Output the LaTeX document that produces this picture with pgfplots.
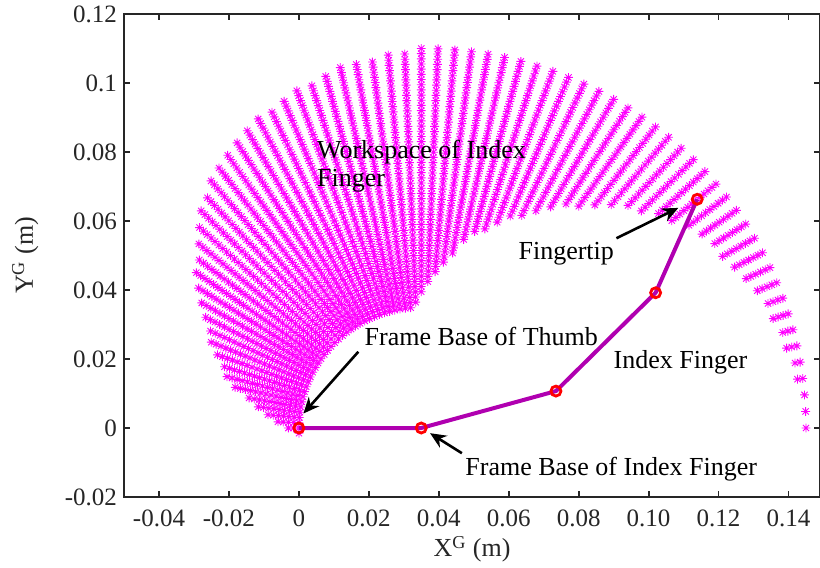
\documentclass[border=0pt]{standalone}
\usepackage{fontspec}
\setmainfont{Liberation Serif}
\usepackage{pgfplots}
\pgfplotsset{compat=1.18}
\usetikzlibrary{arrows.meta}
\definecolor{fingerpurple}{RGB}{176,0,176}
\definecolor{axgray}{RGB}{38,38,38}
\definecolor{cloudmag}{RGB}{255,0,255}
\pgfdeclareplotmark{mstar}{%
  \pgfpathmoveto{\pgfqpoint{-\pgfplotmarksize}{0pt}}%
  \pgfpathlineto{\pgfqpoint{\pgfplotmarksize}{0pt}}%
  \pgfpathmoveto{\pgfqpoint{0pt}{-\pgfplotmarksize}}%
  \pgfpathlineto{\pgfqpoint{0pt}{\pgfplotmarksize}}%
  \pgfpathmoveto{\pgfqpoint{-.7071\pgfplotmarksize}{-.7071\pgfplotmarksize}}%
  \pgfpathlineto{\pgfqpoint{.7071\pgfplotmarksize}{.7071\pgfplotmarksize}}%
  \pgfpathmoveto{\pgfqpoint{-.7071\pgfplotmarksize}{.7071\pgfplotmarksize}}%
  \pgfpathlineto{\pgfqpoint{.7071\pgfplotmarksize}{-.7071\pgfplotmarksize}}%
  \pgfusepathqstroke}
\begin{document}
\begin{tikzpicture}
% workspace cloud: polar data (angle in degrees, radius in mm) about the index finger base
\begin{axis}[at={(0,0)}, anchor=south west, width=348pt, height=241.5pt, scale only axis,
  xmin=-85, xmax=114, ymin=-20, ymax=120, hide axis]
\addplot[only marks, mark=mstar, mark size=2.2pt, color=cloudmag, mark options={line width=0.45pt}, data cs=polar] coordinates {
(0,110)(2.5,110)(5,110)(7.5,110)(10,110)(12.5,110)(15,110)(17.5,110)(20,110)(22.5,110)(25,110)(27.5,110)(30,110)(32.5,110)(35,110)(37.5,110)(40,110)(42.5,110)(45,110)(47.5,110)(50,110)(52.5,110)(55,110)(57.5,110)(60,110)(62.5,110)(65,110)(67.5,110)(70,110)(72.5,110)(75,110)(77.5,110)(80,110)(82.5,110)(85,110)(87.5,110)(90,110)
(12.5,107)(15,107)(17.5,107)(20,107)(22.5,107)(25,107)(27.5,107)(30,107)(32.5,107)(35,107)(37.5,107)(40,107)(42.5,107)(45,107)(47.5,107)(50,107)(52.5,107)(55,107)(57.5,107)(60,107)(62.5,107)(65,107)(67.5,107)(70,107)(72.5,107)(75,107)(77.5,107)(80,107)(82.5,107)(85,107)(87.5,107)(90,107)(92.5,107)(95,107)(97.5,107)(100,107)(102.5,107)
(22.5,104)(25,104)(27.5,104)(30,104)(32.5,104)(35,104)(37.5,104)(40,104)(42.5,104)(45,104)(47.5,104)(50,104)(52.5,104)(55,104)(57.5,104)(60,104)(62.5,104)(65,104)(67.5,104)(70,104)(72.5,104)(75,104)(77.5,104)(80,104)(82.5,104)(85,104)(87.5,104)(90,104)(92.5,104)(95,104)(97.5,104)(100,104)(102.5,104)(105,104)(107.5,104)(110,104)
(27.5,101)(30,101)(32.5,101)(35,101)(37.5,101)(40,101)(42.5,101)(45,101)(47.5,101)(50,101)(52.5,101)(55,101)(57.5,101)(60,101)(62.5,101)(65,101)(67.5,101)(70,101)(72.5,101)(75,101)(77.5,101)(80,101)(82.5,101)(85,101)(87.5,101)(90,101)(92.5,101)(95,101)(97.5,101)(100,101)(102.5,101)(105,101)(107.5,101)(110,101)(112.5,101)(115,101)(117.5,101)
(35,98)(37.5,98)(40,98)(42.5,98)(45,98)(47.5,98)(50,98)(52.5,98)(55,98)(57.5,98)(60,98)(62.5,98)(65,98)(67.5,98)(70,98)(72.5,98)(75,98)(77.5,98)(80,98)(82.5,98)(85,98)(87.5,98)(90,98)(92.5,98)(95,98)(97.5,98)(100,98)(102.5,98)(105,98)(107.5,98)(110,98)(112.5,98)(115,98)(117.5,98)(120,98)(122.5,98)
(40,95)(42.5,95)(45,95)(47.5,95)(50,95)(52.5,95)(55,95)(57.5,95)(60,95)(62.5,95)(65,95)(67.5,95)(70,95)(72.5,95)(75,95)(77.5,95)(80,95)(82.5,95)(85,95)(87.5,95)(90,95)(92.5,95)(95,95)(97.5,95)(100,95)(102.5,95)(105,95)(107.5,95)(110,95)(112.5,95)(115,95)(117.5,95)(120,95)(122.5,95)(125,95)(127.5,95)
(42.5,92)(45,92)(47.5,92)(50,92)(52.5,92)(55,92)(57.5,92)(60,92)(62.5,92)(65,92)(67.5,92)(70,92)(72.5,92)(75,92)(77.5,92)(80,92)(82.5,92)(85,92)(87.5,92)(90,92)(92.5,92)(95,92)(97.5,92)(100,92)(102.5,92)(105,92)(107.5,92)(110,92)(112.5,92)(115,92)(117.5,92)(120,92)(122.5,92)(125,92)(127.5,92)(130,92)
(45,89)(47.5,89)(50,89)(52.5,89)(55,89)(57.5,89)(60,89)(62.5,89)(65,89)(67.5,89)(70,89)(72.5,89)(75,89)(77.5,89)(80,89)(82.5,89)(85,89)(87.5,89)(90,89)(92.5,89)(95,89)(97.5,89)(100,89)(102.5,89)(105,89)(107.5,89)(110,89)(112.5,89)(115,89)(117.5,89)(120,89)(122.5,89)(125,89)(127.5,89)(130,89)(132.5,89)(135,89)
(50,86)(52.5,86)(55,86)(57.5,86)(60,86)(62.5,86)(65,86)(67.5,86)(70,86)(72.5,86)(75,86)(77.5,86)(80,86)(82.5,86)(85,86)(87.5,86)(90,86)(92.5,86)(95,86)(97.5,86)(100,86)(102.5,86)(105,86)(107.5,86)(110,86)(112.5,86)(115,86)(117.5,86)(120,86)(122.5,86)(125,86)(127.5,86)(130,86)(132.5,86)(135,86)(137.5,86)
(52.5,83)(55,83)(57.5,83)(60,83)(62.5,83)(65,83)(67.5,83)(70,83)(72.5,83)(75,83)(77.5,83)(80,83)(82.5,83)(85,83)(87.5,83)(90,83)(92.5,83)(95,83)(97.5,83)(100,83)(102.5,83)(105,83)(107.5,83)(110,83)(112.5,83)(115,83)(117.5,83)(120,83)(122.5,83)(125,83)(127.5,83)(130,83)(132.5,83)(135,83)(137.5,83)(140,83)
(55,80)(57.5,80)(60,80)(62.5,80)(65,80)(67.5,80)(70,80)(72.5,80)(75,80)(77.5,80)(80,80)(82.5,80)(85,80)(87.5,80)(90,80)(92.5,80)(95,80)(97.5,80)(100,80)(102.5,80)(105,80)(107.5,80)(110,80)(112.5,80)(115,80)(117.5,80)(120,80)(122.5,80)(125,80)(127.5,80)(130,80)(132.5,80)(135,80)(137.5,80)(140,80)(142.5,80)
(57.5,77)(60,77)(62.5,77)(65,77)(67.5,77)(70,77)(72.5,77)(75,77)(77.5,77)(80,77)(82.5,77)(85,77)(87.5,77)(90,77)(92.5,77)(95,77)(97.5,77)(100,77)(102.5,77)(105,77)(107.5,77)(110,77)(112.5,77)(115,77)(117.5,77)(120,77)(122.5,77)(125,77)(127.5,77)(130,77)(132.5,77)(135,77)(137.5,77)(140,77)(142.5,77)(145,77)
(60,74)(62.5,74)(65,74)(67.5,74)(70,74)(72.5,74)(75,74)(77.5,74)(80,74)(82.5,74)(85,74)(87.5,74)(90,74)(92.5,74)(95,74)(97.5,74)(100,74)(102.5,74)(105,74)(107.5,74)(110,74)(112.5,74)(115,74)(117.5,74)(120,74)(122.5,74)(125,74)(127.5,74)(130,74)(132.5,74)(135,74)(137.5,74)(140,74)(142.5,74)(145,74)(147.5,74)
(62.5,71)(65,71)(67.5,71)(70,71)(72.5,71)(75,71)(77.5,71)(80,71)(82.5,71)(85,71)(87.5,71)(90,71)(92.5,71)(95,71)(97.5,71)(100,71)(102.5,71)(105,71)(107.5,71)(110,71)(112.5,71)(115,71)(117.5,71)(120,71)(122.5,71)(125,71)(127.5,71)(130,71)(132.5,71)(135,71)(137.5,71)(140,71)(142.5,71)(145,71)(147.5,71)(150,71)
(65,68)(67.5,68)(70,68)(72.5,68)(75,68)(77.5,68)(80,68)(82.5,68)(85,68)(87.5,68)(90,68)(92.5,68)(95,68)(97.5,68)(100,68)(102.5,68)(105,68)(107.5,68)(110,68)(112.5,68)(115,68)(117.5,68)(120,68)(122.5,68)(125,68)(127.5,68)(130,68)(132.5,68)(135,68)(137.5,68)(140,68)(142.5,68)(145,68)(147.5,68)(150,68)(152.5,68)
(70,65)(72.5,65)(75,65)(77.5,65)(80,65)(82.5,65)(85,65)(87.5,65)(90,65)(92.5,65)(95,65)(97.5,65)(100,65)(102.5,65)(105,65)(107.5,65)(110,65)(112.5,65)(115,65)(117.5,65)(120,65)(122.5,65)(125,65)(127.5,65)(130,65)(132.5,65)(135,65)(137.5,65)(140,65)(142.5,65)(145,65)(147.5,65)(150,65)(152.5,65)(155,65)(157.5,65)
(72.5,62)(75,62)(77.5,62)(80,62)(82.5,62)(85,62)(87.5,62)(90,62)(92.5,62)(95,62)(97.5,62)(100,62)(102.5,62)(105,62)(107.5,62)(110,62)(112.5,62)(115,62)(117.5,62)(120,62)(122.5,62)(125,62)(127.5,62)(130,62)(132.5,62)(135,62)(137.5,62)(140,62)(142.5,62)(145,62)(147.5,62)(150,62)(152.5,62)(155,62)(157.5,62)(160,62)
(75,59)(77.5,59)(80,59)(82.5,59)(85,59)(87.5,59)(90,59)(92.5,59)(95,59)(97.5,59)(100,59)(102.5,59)(105,59)(107.5,59)(110,59)(112.5,59)(115,59)(117.5,59)(120,59)(122.5,59)(125,59)(127.5,59)(130,59)(132.5,59)(135,59)(137.5,59)(140,59)(142.5,59)(145,59)(147.5,59)(150,59)(152.5,59)(155,59)(157.5,59)(160,59)(162.5,59)
(77.5,56)(80,56)(82.5,56)(85,56)(87.5,56)(90,56)(92.5,56)(95,56)(97.5,56)(100,56)(102.5,56)(105,56)(107.5,56)(110,56)(112.5,56)(115,56)(117.5,56)(120,56)(122.5,56)(125,56)(127.5,56)(130,56)(132.5,56)(135,56)(137.5,56)(140,56)(142.5,56)(145,56)(147.5,56)(150,56)(152.5,56)(155,56)(157.5,56)(160,56)(162.5,56)(165,56)
(80,53)(82.5,53)(85,53)(87.5,53)(90,53)(92.5,53)(95,53)(97.5,53)(100,53)(102.5,53)(105,53)(107.5,53)(110,53)(112.5,53)(115,53)(117.5,53)(120,53)(122.5,53)(125,53)(127.5,53)(130,53)(132.5,53)(135,53)(137.5,53)(140,53)(142.5,53)(145,53)(147.5,53)(150,53)(152.5,53)(155,53)(157.5,53)(160,53)(162.5,53)(165,53)(167.5,53)
(82.5,50)(85,50)(87.5,50)(90,50)(92.5,50)(95,50)(97.5,50)(100,50)(102.5,50)(105,50)(107.5,50)(110,50)(112.5,50)(115,50)(117.5,50)(120,50)(122.5,50)(125,50)(127.5,50)(130,50)(132.5,50)(135,50)(137.5,50)(140,50)(142.5,50)(145,50)(147.5,50)(150,50)(152.5,50)(155,50)(157.5,50)(160,50)(162.5,50)(165,50)(167.5,50)(170,50)
(85,47)(87.5,47)(90,47)(92.5,47)(95,47)(97.5,47)(100,47)(102.5,47)(105,47)(107.5,47)(110,47)(112.5,47)(115,47)(117.5,47)(120,47)(122.5,47)(125,47)(127.5,47)(130,47)(132.5,47)(135,47)(137.5,47)(140,47)(142.5,47)(145,47)(147.5,47)(150,47)(152.5,47)(155,47)(157.5,47)(160,47)(162.5,47)(165,47)(167.5,47)(170,47)(172.5,47)
(87.5,44)(90,44)(92.5,44)(95,44)(97.5,44)(100,44)(102.5,44)(105,44)(107.5,44)(110,44)(112.5,44)(115,44)(117.5,44)(120,44)(122.5,44)(125,44)(127.5,44)(130,44)(132.5,44)(135,44)(137.5,44)(140,44)(142.5,44)(145,44)(147.5,44)(150,44)(152.5,44)(155,44)(157.5,44)(160,44)(162.5,44)(165,44)(167.5,44)(170,44)(172.5,44)(175,44)
(90,41)(92.5,41)(95,41)(97.5,41)(100,41)(102.5,41)(105,41)(107.5,41)(110,41)(112.5,41)(115,41)(117.5,41)(120,41)(122.5,41)(125,41)(127.5,41)(130,41)(132.5,41)(135,41)(137.5,41)(140,41)(142.5,41)(145,41)(147.5,41)(150,41)(152.5,41)(155,41)(157.5,41)(160,41)(162.5,41)(165,41)(167.5,41)(170,41)(172.5,41)(175,41)(177.5,41)
(92.5,38)(95,38)(97.5,38)(100,38)(102.5,38)(105,38)(107.5,38)(110,38)(112.5,38)(115,38)(117.5,38)(120,38)(122.5,38)(125,38)(127.5,38)(130,38)(132.5,38)(135,38)(137.5,38)(140,38)(142.5,38)(145,38)(147.5,38)(150,38)(152.5,38)(155,38)(157.5,38)(160,38)(162.5,38)(165,38)(167.5,38)(170,38)(172.5,38)(175,38)(177.5,38)(180,38)
(95,35)(97.5,35)(100,35)(102.5,35)(105,35)(107.5,35)(110,35)(112.5,35)(115,35)(117.5,35)(120,35)(122.5,35)(125,35)(127.5,35)(130,35)(132.5,35)(135,35)(137.5,35)(140,35)(142.5,35)(145,35)(147.5,35)(150,35)(152.5,35)(155,35)(157.5,35)(160,35)(162.5,35)(165,35)(167.5,35)(170,35)(172.5,35)(175,35)(177.5,35)(180,35)(182.5,35)
};
\addplot[only marks, mark=mstar, mark size=2.2pt, color=cloudmag, mark options={line width=0.45pt}, data cs=polar] coordinates {
(7.5,108.5)(10,108.5)(12.5,108.5)(15,108.5)(17.5,108.5)(20,108.5)(22.5,108.5)(25,108.5)(27.5,108.5)(30,108.5)(32.5,108.5)(35,108.5)(37.5,108.5)(40,108.5)(42.5,108.5)(45,108.5)(47.5,108.5)(50,108.5)(52.5,108.5)(55,108.5)(57.5,108.5)(60,108.5)(62.5,108.5)(65,108.5)(67.5,108.5)(70,108.5)(72.5,108.5)(75,108.5)(77.5,108.5)(80,108.5)(82.5,108.5)(85,108.5)(87.5,108.5)(90,108.5)(92.5,108.5)(95,108.5)
(17.5,105.5)(20,105.5)(22.5,105.5)(25,105.5)(27.5,105.5)(30,105.5)(32.5,105.5)(35,105.5)(37.5,105.5)(40,105.5)(42.5,105.5)(45,105.5)(47.5,105.5)(50,105.5)(52.5,105.5)(55,105.5)(57.5,105.5)(60,105.5)(62.5,105.5)(65,105.5)(67.5,105.5)(70,105.5)(72.5,105.5)(75,105.5)(77.5,105.5)(80,105.5)(82.5,105.5)(85,105.5)(87.5,105.5)(90,105.5)(92.5,105.5)(95,105.5)(97.5,105.5)(100,105.5)(102.5,105.5)(105,105.5)
(25,102.5)(27.5,102.5)(30,102.5)(32.5,102.5)(35,102.5)(37.5,102.5)(40,102.5)(42.5,102.5)(45,102.5)(47.5,102.5)(50,102.5)(52.5,102.5)(55,102.5)(57.5,102.5)(60,102.5)(62.5,102.5)(65,102.5)(67.5,102.5)(70,102.5)(72.5,102.5)(75,102.5)(77.5,102.5)(80,102.5)(82.5,102.5)(85,102.5)(87.5,102.5)(90,102.5)(92.5,102.5)(95,102.5)(97.5,102.5)(100,102.5)(102.5,102.5)(105,102.5)(107.5,102.5)(110,102.5)(112.5,102.5)
(30,99.5)(32.5,99.5)(35,99.5)(37.5,99.5)(40,99.5)(42.5,99.5)(45,99.5)(47.5,99.5)(50,99.5)(52.5,99.5)(55,99.5)(57.5,99.5)(60,99.5)(62.5,99.5)(65,99.5)(67.5,99.5)(70,99.5)(72.5,99.5)(75,99.5)(77.5,99.5)(80,99.5)(82.5,99.5)(85,99.5)(87.5,99.5)(90,99.5)(92.5,99.5)(95,99.5)(97.5,99.5)(100,99.5)(102.5,99.5)(105,99.5)(107.5,99.5)(110,99.5)(112.5,99.5)(115,99.5)(117.5,99.5)(120,99.5)
(37.5,96.5)(40,96.5)(42.5,96.5)(45,96.5)(47.5,96.5)(50,96.5)(52.5,96.5)(55,96.5)(57.5,96.5)(60,96.5)(62.5,96.5)(65,96.5)(67.5,96.5)(70,96.5)(72.5,96.5)(75,96.5)(77.5,96.5)(80,96.5)(82.5,96.5)(85,96.5)(87.5,96.5)(90,96.5)(92.5,96.5)(95,96.5)(97.5,96.5)(100,96.5)(102.5,96.5)(105,96.5)(107.5,96.5)(110,96.5)(112.5,96.5)(115,96.5)(117.5,96.5)(120,96.5)(122.5,96.5)(125,96.5)
(40,93.5)(42.5,93.5)(45,93.5)(47.5,93.5)(50,93.5)(52.5,93.5)(55,93.5)(57.5,93.5)(60,93.5)(62.5,93.5)(65,93.5)(67.5,93.5)(70,93.5)(72.5,93.5)(75,93.5)(77.5,93.5)(80,93.5)(82.5,93.5)(85,93.5)(87.5,93.5)(90,93.5)(92.5,93.5)(95,93.5)(97.5,93.5)(100,93.5)(102.5,93.5)(105,93.5)(107.5,93.5)(110,93.5)(112.5,93.5)(115,93.5)(117.5,93.5)(120,93.5)(122.5,93.5)(125,93.5)(127.5,93.5)(130,93.5)
(45,90.5)(47.5,90.5)(50,90.5)(52.5,90.5)(55,90.5)(57.5,90.5)(60,90.5)(62.5,90.5)(65,90.5)(67.5,90.5)(70,90.5)(72.5,90.5)(75,90.5)(77.5,90.5)(80,90.5)(82.5,90.5)(85,90.5)(87.5,90.5)(90,90.5)(92.5,90.5)(95,90.5)(97.5,90.5)(100,90.5)(102.5,90.5)(105,90.5)(107.5,90.5)(110,90.5)(112.5,90.5)(115,90.5)(117.5,90.5)(120,90.5)(122.5,90.5)(125,90.5)(127.5,90.5)(130,90.5)(132.5,90.5)
(47.5,87.5)(50,87.5)(52.5,87.5)(55,87.5)(57.5,87.5)(60,87.5)(62.5,87.5)(65,87.5)(67.5,87.5)(70,87.5)(72.5,87.5)(75,87.5)(77.5,87.5)(80,87.5)(82.5,87.5)(85,87.5)(87.5,87.5)(90,87.5)(92.5,87.5)(95,87.5)(97.5,87.5)(100,87.5)(102.5,87.5)(105,87.5)(107.5,87.5)(110,87.5)(112.5,87.5)(115,87.5)(117.5,87.5)(120,87.5)(122.5,87.5)(125,87.5)(127.5,87.5)(130,87.5)(132.5,87.5)(135,87.5)
(50,84.5)(52.5,84.5)(55,84.5)(57.5,84.5)(60,84.5)(62.5,84.5)(65,84.5)(67.5,84.5)(70,84.5)(72.5,84.5)(75,84.5)(77.5,84.5)(80,84.5)(82.5,84.5)(85,84.5)(87.5,84.5)(90,84.5)(92.5,84.5)(95,84.5)(97.5,84.5)(100,84.5)(102.5,84.5)(105,84.5)(107.5,84.5)(110,84.5)(112.5,84.5)(115,84.5)(117.5,84.5)(120,84.5)(122.5,84.5)(125,84.5)(127.5,84.5)(130,84.5)(132.5,84.5)(135,84.5)(137.5,84.5)
(52.5,81.5)(55,81.5)(57.5,81.5)(60,81.5)(62.5,81.5)(65,81.5)(67.5,81.5)(70,81.5)(72.5,81.5)(75,81.5)(77.5,81.5)(80,81.5)(82.5,81.5)(85,81.5)(87.5,81.5)(90,81.5)(92.5,81.5)(95,81.5)(97.5,81.5)(100,81.5)(102.5,81.5)(105,81.5)(107.5,81.5)(110,81.5)(112.5,81.5)(115,81.5)(117.5,81.5)(120,81.5)(122.5,81.5)(125,81.5)(127.5,81.5)(130,81.5)(132.5,81.5)(135,81.5)(137.5,81.5)(140,81.5)
(55,78.5)(57.5,78.5)(60,78.5)(62.5,78.5)(65,78.5)(67.5,78.5)(70,78.5)(72.5,78.5)(75,78.5)(77.5,78.5)(80,78.5)(82.5,78.5)(85,78.5)(87.5,78.5)(90,78.5)(92.5,78.5)(95,78.5)(97.5,78.5)(100,78.5)(102.5,78.5)(105,78.5)(107.5,78.5)(110,78.5)(112.5,78.5)(115,78.5)(117.5,78.5)(120,78.5)(122.5,78.5)(125,78.5)(127.5,78.5)(130,78.5)(132.5,78.5)(135,78.5)(137.5,78.5)(140,78.5)(142.5,78.5)(145,78.5)
(60,75.5)(62.5,75.5)(65,75.5)(67.5,75.5)(70,75.5)(72.5,75.5)(75,75.5)(77.5,75.5)(80,75.5)(82.5,75.5)(85,75.5)(87.5,75.5)(90,75.5)(92.5,75.5)(95,75.5)(97.5,75.5)(100,75.5)(102.5,75.5)(105,75.5)(107.5,75.5)(110,75.5)(112.5,75.5)(115,75.5)(117.5,75.5)(120,75.5)(122.5,75.5)(125,75.5)(127.5,75.5)(130,75.5)(132.5,75.5)(135,75.5)(137.5,75.5)(140,75.5)(142.5,75.5)(145,75.5)(147.5,75.5)
(62.5,72.5)(65,72.5)(67.5,72.5)(70,72.5)(72.5,72.5)(75,72.5)(77.5,72.5)(80,72.5)(82.5,72.5)(85,72.5)(87.5,72.5)(90,72.5)(92.5,72.5)(95,72.5)(97.5,72.5)(100,72.5)(102.5,72.5)(105,72.5)(107.5,72.5)(110,72.5)(112.5,72.5)(115,72.5)(117.5,72.5)(120,72.5)(122.5,72.5)(125,72.5)(127.5,72.5)(130,72.5)(132.5,72.5)(135,72.5)(137.5,72.5)(140,72.5)(142.5,72.5)(145,72.5)(147.5,72.5)(150,72.5)
(65,69.5)(67.5,69.5)(70,69.5)(72.5,69.5)(75,69.5)(77.5,69.5)(80,69.5)(82.5,69.5)(85,69.5)(87.5,69.5)(90,69.5)(92.5,69.5)(95,69.5)(97.5,69.5)(100,69.5)(102.5,69.5)(105,69.5)(107.5,69.5)(110,69.5)(112.5,69.5)(115,69.5)(117.5,69.5)(120,69.5)(122.5,69.5)(125,69.5)(127.5,69.5)(130,69.5)(132.5,69.5)(135,69.5)(137.5,69.5)(140,69.5)(142.5,69.5)(145,69.5)(147.5,69.5)(150,69.5)(152.5,69.5)
(67.5,66.5)(70,66.5)(72.5,66.5)(75,66.5)(77.5,66.5)(80,66.5)(82.5,66.5)(85,66.5)(87.5,66.5)(90,66.5)(92.5,66.5)(95,66.5)(97.5,66.5)(100,66.5)(102.5,66.5)(105,66.5)(107.5,66.5)(110,66.5)(112.5,66.5)(115,66.5)(117.5,66.5)(120,66.5)(122.5,66.5)(125,66.5)(127.5,66.5)(130,66.5)(132.5,66.5)(135,66.5)(137.5,66.5)(140,66.5)(142.5,66.5)(145,66.5)(147.5,66.5)(150,66.5)(152.5,66.5)(155,66.5)
(70,63.5)(72.5,63.5)(75,63.5)(77.5,63.5)(80,63.5)(82.5,63.5)(85,63.5)(87.5,63.5)(90,63.5)(92.5,63.5)(95,63.5)(97.5,63.5)(100,63.5)(102.5,63.5)(105,63.5)(107.5,63.5)(110,63.5)(112.5,63.5)(115,63.5)(117.5,63.5)(120,63.5)(122.5,63.5)(125,63.5)(127.5,63.5)(130,63.5)(132.5,63.5)(135,63.5)(137.5,63.5)(140,63.5)(142.5,63.5)(145,63.5)(147.5,63.5)(150,63.5)(152.5,63.5)(155,63.5)(157.5,63.5)
(72.5,60.5)(75,60.5)(77.5,60.5)(80,60.5)(82.5,60.5)(85,60.5)(87.5,60.5)(90,60.5)(92.5,60.5)(95,60.5)(97.5,60.5)(100,60.5)(102.5,60.5)(105,60.5)(107.5,60.5)(110,60.5)(112.5,60.5)(115,60.5)(117.5,60.5)(120,60.5)(122.5,60.5)(125,60.5)(127.5,60.5)(130,60.5)(132.5,60.5)(135,60.5)(137.5,60.5)(140,60.5)(142.5,60.5)(145,60.5)(147.5,60.5)(150,60.5)(152.5,60.5)(155,60.5)(157.5,60.5)(160,60.5)
(77.5,57.5)(80,57.5)(82.5,57.5)(85,57.5)(87.5,57.5)(90,57.5)(92.5,57.5)(95,57.5)(97.5,57.5)(100,57.5)(102.5,57.5)(105,57.5)(107.5,57.5)(110,57.5)(112.5,57.5)(115,57.5)(117.5,57.5)(120,57.5)(122.5,57.5)(125,57.5)(127.5,57.5)(130,57.5)(132.5,57.5)(135,57.5)(137.5,57.5)(140,57.5)(142.5,57.5)(145,57.5)(147.5,57.5)(150,57.5)(152.5,57.5)(155,57.5)(157.5,57.5)(160,57.5)(162.5,57.5)(165,57.5)
(80,54.5)(82.5,54.5)(85,54.5)(87.5,54.5)(90,54.5)(92.5,54.5)(95,54.5)(97.5,54.5)(100,54.5)(102.5,54.5)(105,54.5)(107.5,54.5)(110,54.5)(112.5,54.5)(115,54.5)(117.5,54.5)(120,54.5)(122.5,54.5)(125,54.5)(127.5,54.5)(130,54.5)(132.5,54.5)(135,54.5)(137.5,54.5)(140,54.5)(142.5,54.5)(145,54.5)(147.5,54.5)(150,54.5)(152.5,54.5)(155,54.5)(157.5,54.5)(160,54.5)(162.5,54.5)(165,54.5)(167.5,54.5)
(80,51.5)(82.5,51.5)(85,51.5)(87.5,51.5)(90,51.5)(92.5,51.5)(95,51.5)(97.5,51.5)(100,51.5)(102.5,51.5)(105,51.5)(107.5,51.5)(110,51.5)(112.5,51.5)(115,51.5)(117.5,51.5)(120,51.5)(122.5,51.5)(125,51.5)(127.5,51.5)(130,51.5)(132.5,51.5)(135,51.5)(137.5,51.5)(140,51.5)(142.5,51.5)(145,51.5)(147.5,51.5)(150,51.5)(152.5,51.5)(155,51.5)(157.5,51.5)(160,51.5)(162.5,51.5)(165,51.5)(167.5,51.5)
(82.5,48.5)(85,48.5)(87.5,48.5)(90,48.5)(92.5,48.5)(95,48.5)(97.5,48.5)(100,48.5)(102.5,48.5)(105,48.5)(107.5,48.5)(110,48.5)(112.5,48.5)(115,48.5)(117.5,48.5)(120,48.5)(122.5,48.5)(125,48.5)(127.5,48.5)(130,48.5)(132.5,48.5)(135,48.5)(137.5,48.5)(140,48.5)(142.5,48.5)(145,48.5)(147.5,48.5)(150,48.5)(152.5,48.5)(155,48.5)(157.5,48.5)(160,48.5)(162.5,48.5)(165,48.5)(167.5,48.5)(170,48.5)
(85,45.5)(87.5,45.5)(90,45.5)(92.5,45.5)(95,45.5)(97.5,45.5)(100,45.5)(102.5,45.5)(105,45.5)(107.5,45.5)(110,45.5)(112.5,45.5)(115,45.5)(117.5,45.5)(120,45.5)(122.5,45.5)(125,45.5)(127.5,45.5)(130,45.5)(132.5,45.5)(135,45.5)(137.5,45.5)(140,45.5)(142.5,45.5)(145,45.5)(147.5,45.5)(150,45.5)(152.5,45.5)(155,45.5)(157.5,45.5)(160,45.5)(162.5,45.5)(165,45.5)(167.5,45.5)(170,45.5)(172.5,45.5)
(87.5,42.5)(90,42.5)(92.5,42.5)(95,42.5)(97.5,42.5)(100,42.5)(102.5,42.5)(105,42.5)(107.5,42.5)(110,42.5)(112.5,42.5)(115,42.5)(117.5,42.5)(120,42.5)(122.5,42.5)(125,42.5)(127.5,42.5)(130,42.5)(132.5,42.5)(135,42.5)(137.5,42.5)(140,42.5)(142.5,42.5)(145,42.5)(147.5,42.5)(150,42.5)(152.5,42.5)(155,42.5)(157.5,42.5)(160,42.5)(162.5,42.5)(165,42.5)(167.5,42.5)(170,42.5)(172.5,42.5)(175,42.5)
(90,39.5)(92.5,39.5)(95,39.5)(97.5,39.5)(100,39.5)(102.5,39.5)(105,39.5)(107.5,39.5)(110,39.5)(112.5,39.5)(115,39.5)(117.5,39.5)(120,39.5)(122.5,39.5)(125,39.5)(127.5,39.5)(130,39.5)(132.5,39.5)(135,39.5)(137.5,39.5)(140,39.5)(142.5,39.5)(145,39.5)(147.5,39.5)(150,39.5)(152.5,39.5)(155,39.5)(157.5,39.5)(160,39.5)(162.5,39.5)(165,39.5)(167.5,39.5)(170,39.5)(172.5,39.5)(175,39.5)(177.5,39.5)
(92.5,36.5)(95,36.5)(97.5,36.5)(100,36.5)(102.5,36.5)(105,36.5)(107.5,36.5)(110,36.5)(112.5,36.5)(115,36.5)(117.5,36.5)(120,36.5)(122.5,36.5)(125,36.5)(127.5,36.5)(130,36.5)(132.5,36.5)(135,36.5)(137.5,36.5)(140,36.5)(142.5,36.5)(145,36.5)(147.5,36.5)(150,36.5)(152.5,36.5)(155,36.5)(157.5,36.5)(160,36.5)(162.5,36.5)(165,36.5)(167.5,36.5)(170,36.5)(172.5,36.5)(175,36.5)(177.5,36.5)(180,36.5)
};
\end{axis}
\begin{axis}[at={(0,0)}, anchor=south west, width=348pt, height=241.5pt, scale only axis,
  xmin=-0.05, xmax=0.149, ymin=-0.02, ymax=0.12,
  xtick={-0.04,-0.02,0,0.02,0.04,0.06,0.08,0.1,0.12,0.14},
  xticklabels={-0.04,-0.02,0,0.02,0.04,0.06,0.08,0.10,0.12,0.14},
  ytick={-0.02,0,0.02,0.04,0.06,0.08,0.1,0.12},
  yticklabels={-0.02,0,0.02,0.04,0.06,0.08,0.1,0.12},
  scaled ticks=false,
  tick align=inside, major tick length=3pt,
  tick style={axgray, line width=0.9pt},
  axis line style={axgray, line width=1.3pt},
  tick label style={font=\fontsize{12.5}{14}\selectfont, text=axgray},
  x tick label style={yshift=-3pt},
  /pgf/number format/assume math mode=true,
  xlabel={X\textsuperscript{G} (m)},
  ylabel={Y\textsuperscript{G} (m)},
  label style={font=\fontsize{13}{15}\selectfont, text=axgray},
  xlabel style={at={(axis description cs:0.5,-0.108)}, anchor=center},
  ylabel style={at={(axis description cs:-0.142,0.5)}, anchor=center},
  clip=false]
\addplot[fingerpurple, line width=2pt, mark=o, mark size=2.5pt,
  mark options={draw=red, line width=1.4pt, fill=none}]
  coordinates {(0,0)(0.035,0)(0.0735,0.0107)(0.102,0.0392)(0.1139,0.0663)};
\draw[black, line width=1.3pt, -{Stealth[length=8pt,width=7pt]}] (axis cs:0.017,0.0221) -- (axis cs:0.0013,0.0042);
\draw[black, line width=1.3pt, -{Stealth[length=8pt,width=7pt]}] (axis cs:0.0466,-0.0073) -- (axis cs:0.0375,-0.0015);
\draw[black, line width=1.3pt, -{Stealth[length=8pt,width=7pt]}] (axis cs:0.0908,0.055) -- (axis cs:0.1085,0.0638);
\begin{scope}[every node/.style={anchor=base west, inner sep=0pt, font=\fontsize{13}{15}\selectfont}]
\node at (axis cs:0.0051,0.0782) {Workspace of Index};
\node at (axis cs:0.0051,0.0701) {Finger};
\node at (axis cs:0.0627,0.0487) {Fingertip};
\node at (axis cs:0.0187,0.0238) {Frame Base of Thumb};
\node at (axis cs:0.0899,0.0173) {Index Finger};
\node at (axis cs:0.0475,-0.0137) {Frame Base of Index Finger};
\end{scope}
\end{axis}
\pgfresetboundingbox
\path[use as bounding box] (-62pt,-35.5pt) rectangle (348pt,248.5pt);
\end{tikzpicture}
\end{document}
